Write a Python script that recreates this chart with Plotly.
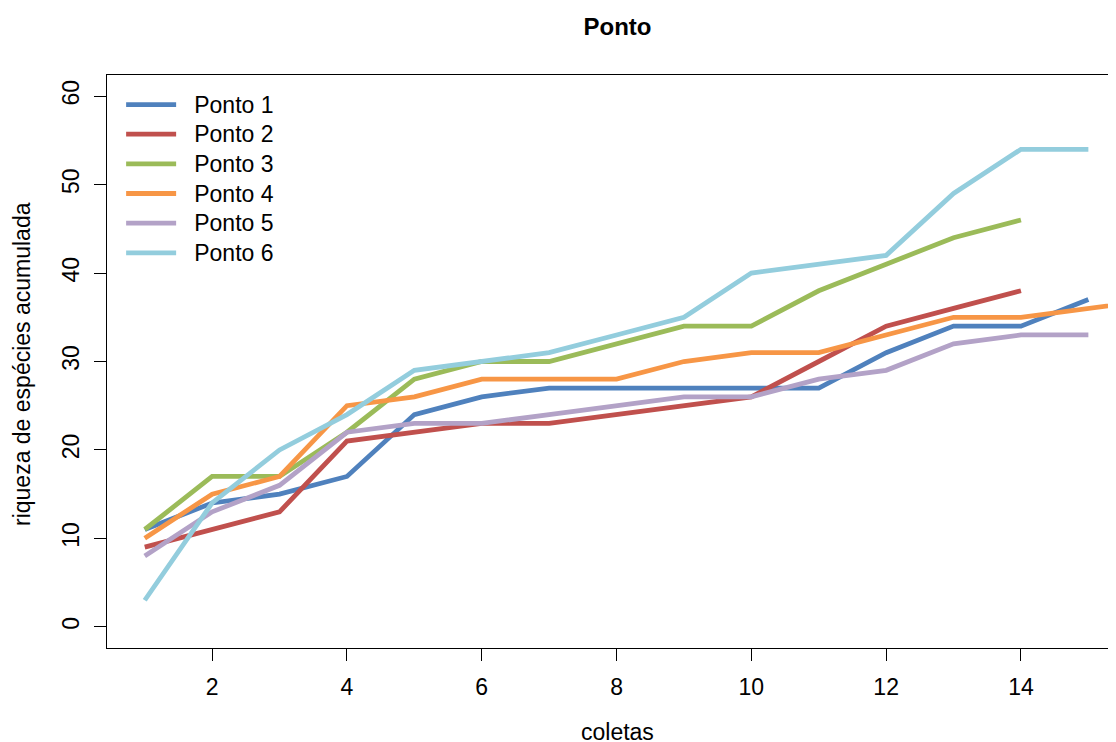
import plotly.graph_objects as go

coletas_1 = list(range(1, 16))
ponto1 = [11, 14, 15, 17, 24, 26, 27, 27, 27, 27, 27, 31, 34, 34, 37]
coletas_2 = list(range(1, 15))
ponto2 = [9, 11, 13, 21, 22, 23, 23, 24, 25, 26, 30, 34, 36, 38]
coletas_3 = list(range(1, 15))
ponto3 = [11, 17, 17, 22, 28, 30, 30, 32, 34, 34, 38, 41, 44, 46]
coletas_4 = list(range(1, 17))
ponto4 = [10, 15, 17, 25, 26, 28, 28, 28, 30, 31, 31, 33, 35, 35, 36, 37]
coletas_5 = list(range(1, 16))
ponto5 = [8, 13, 16, 22, 23, 23, 24, 25, 26, 26, 28, 29, 32, 33, 33]
coletas_6 = list(range(1, 16))
ponto6 = [3, 14, 20, 24, 29, 30, 31, 33, 35, 40, 41, 42, 49, 54, 54]

names = ["Ponto 1", "Ponto 2", "Ponto 3", "Ponto 4", "Ponto 5", "Ponto 6"]
colors = ["#4F81BD", "#C0504D", "#9BBB59", "#F79646", "#B3A2C7", "#93CDDD"]
xs = [coletas_1, coletas_2, coletas_3, coletas_4, coletas_5, coletas_6]
ys = [ponto1, ponto2, ponto3, ponto4, ponto5, ponto6]

x_ticks = [2, 4, 6, 8, 10, 12, 14]
y_ticks = [0, 10, 20, 30, 40, 50, 60]

FONT = "Liberation Sans, Arial, Helvetica, sans-serif"

# page body has an 8px margin: figure sized to fit the window
W, H = 1108, 734
L, T, B = 99, 67, 94
PW, PH = W - L, H - T - B

fig = go.Figure()
for i, (n, c, x, y) in enumerate(zip(names, colors, xs, ys)):
    fig.add_trace(go.Scatter(
        x=x, y=y, mode="lines",
        name="&nbsp;&nbsp;\u200a<span style='font-size:23px'>" + n + "</span>",
        line=dict(color=c, width=4.8), legendgroup=str(i)))

fig.update_layout(
    width=W, height=H,
    margin=dict(l=L, r=0, t=T, b=B),
    plot_bgcolor="white", paper_bgcolor="white",
    font=dict(family=FONT, size=23, color="black"),
    showlegend=True,
    legend=dict(x=0.014, y=0.983, xanchor="left", yanchor="top",
                bgcolor="rgba(0,0,0,0)", font=dict(size=20.5),
                itemwidth=50, tracegroupgap=0),
    title=dict(text="<b>Ponto</b>", x=609.5 / W, xanchor="center",
               y=1 - 19 / H, yanchor="middle",
               font=dict(size=24, family=FONT)),
)

fig.update_xaxes(range=[0.44, 15.41], tickvals=x_ticks,
                 ticktext=[str(v) for v in x_ticks],
                 showgrid=False, zeroline=False,
                 showline=True, mirror=True, linecolor="black", linewidth=1.2,
                 ticks="outside", ticklen=12, tickwidth=1.2, tickcolor="black",
                 ticklabelstandoff=6,
                 tickfont=dict(size=23))
fig.update_yaxes(range=[-2.4, 62.4], tickvals=y_ticks,
                 ticktext=[str(v) for v in y_ticks],
                 showgrid=False, zeroline=False,
                 showline=True, mirror=False, linecolor="black", linewidth=1.2,
                 ticks="outside", ticklen=12, tickwidth=1.2, tickcolor="black",
                 tickangle=-90, ticklabelstandoff=6,
                 tickfont=dict(size=23))

fig.add_annotation(text="coletas", xref="paper", yref="paper",
                   x=(609 - L) / PW, y=-(724 - (T + PH)) / PH,
                   xanchor="center", yanchor="middle", showarrow=False,
                   font=dict(size=23, family=FONT))
fig.add_annotation(text="riqueza de espécies acumulada", xref="paper", yref="paper",
                   x=(14 - L) / PW, y=((T + PH) - 356) / PH,
                   xanchor="center", yanchor="middle", showarrow=False,
                   textangle=-90, font=dict(size=23, family=FONT))

fig.write_html("out.html")
